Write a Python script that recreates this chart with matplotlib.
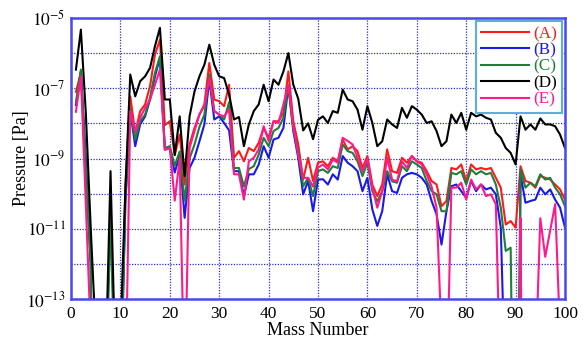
import numpy as np
import matplotlib
matplotlib.use("Agg")
import matplotlib.pyplot as plt
from matplotlib.ticker import FixedLocator, FixedFormatter

plt.rcParams['font.family'] = ['Liberation Serif', 'DejaVu Serif']
plt.rcParams['mathtext.fontset'] = 'stix'

mass = list(range(1, 101))

# log10 of pressure [Pa] (very low values = dropouts off the axis)
log_A = [-7.1, -6.56, -9.4, -12.0, -30, -30, -15, -10.6, -15, -16,
         -9.8, -7.23, -8.27, -7.65, -7.46, -6.94, -6.04, -5.62, -8.05, -7.94,
         -8.9, -8.32, -9.74, -8.6, -8.13, -7.75, -7.46, -6.28, -7.32, -7.37,
         -7.51, -6.9, -8.98, -8.79, -9.08, -8.7, -8.79, -8.55, -8.13, -8.41,
         -7.94, -7.94, -7.7, -6.52, -7.94, -8.6, -9.6, -8.98, -9.64, -9.12,
         -9.08, -9.22, -8.98, -9.08, -8.46, -8.74, -8.65, -8.79, -9.27, -8.93,
         -9.74, -10.07, -9.74, -8.74, -9.36, -9.41, -8.98, -9.12, -8.93, -9.08,
         -9.12, -9.36, -9.64, -9.74, -10.36, -10.21, -9.27, -9.31, -9.17, -9.64,
         -9.17, -9.31, -9.27, -9.31, -9.27, -9.55, -9.83, -10.88, -10.78, -10.97,
         -9.22, -9.64, -9.69, -9.83, -9.5, -9.55, -9.6, -9.74, -9.88, -10.17]

log_B = [-7.48, -6.52, -9.0, -12.0, -30, -30, -30, -30, -30, -16,
         -10.3, -7.65, -8.65, -8.03, -7.8, -7.32, -6.66, -6.14, -8.75, -8.7,
         -9.4, -8.9, -10.69, -9.27, -8.98, -8.51, -8.03, -6.75, -7.89, -7.8,
         -7.99, -8.2, -9.36, -9.36, -10.07, -9.45, -9.45, -9.17, -8.65, -8.98,
         -8.46, -8.41, -8.13, -6.94, -8.22, -8.98, -10.02, -9.64, -10.5, -9.6,
         -9.59, -9.74, -9.45, -9.6, -8.93, -9.12, -9.22, -9.36, -9.93, -9.55,
         -10.45, -10.92, -10.5, -9.45, -9.93, -9.98, -9.55, -9.45, -9.41, -9.45,
         -9.55, -9.74, -10.21, -10.59, -11.45, -10.5, -9.79, -9.74, -9.93, -10.12,
         -9.64, -9.93, -9.74, -9.88, -9.83, -10.02, -10.97, -16, -30, -30,
         -9.45, -10.26, -10.21, -10.17, -9.83, -10.02, -9.88, -10.17, -10.4, -10.97]

log_C = [-7.4, -6.47, -9.3, -12.0, -30, -30, -16, -10.7, -16, -16,
         -10.2, -7.6, -8.46, -7.94, -7.75, -7.27, -6.56, -6.09, -8.7, -8.65,
         -9.2, -8.8, -10.2, -9.0, -8.6, -8.1, -7.75, -6.61, -7.65, -7.75,
         -7.89, -7.4, -9.27, -9.27, -9.79, -9.3, -9.22, -8.89, -8.41, -8.65,
         -8.22, -8.13, -7.84, -6.9, -8.13, -8.79, -9.79, -9.55, -10.07, -9.36,
         -9.31, -9.41, -9.22, -9.27, -8.6, -8.79, -8.84, -9.08, -9.5, -9.12,
         -9.93, -10.22, -9.93, -9.36, -9.65, -9.69, -9.22, -9.36, -9.08, -9.17,
         -9.27, -9.64, -9.93, -10.02, -10.5, -10.5, -9.41, -9.45, -9.36, -9.74,
         -9.31, -9.45, -9.36, -9.45, -9.41, -9.74, -10.4, -11.63, -11.54, -22,
         -9.31, -9.83, -9.69, -9.79, -9.45, -9.6, -9.55, -9.83, -10.02, -10.36]

log_D = [-6.47, -5.33, -7.7, -11.0, -14, -30, -15, -9.36, -15, -14,
         -9.9, -6.61, -7.23, -6.8, -6.66, -6.42, -5.8, -5.28, -7.32, -7.32,
         -8.9, -7.8, -9.5, -7.8, -7.09, -6.66, -6.33, -5.76, -6.33, -6.66,
         -6.71, -7.18, -7.89, -7.82, -8.65, -8.03, -7.65, -7.46, -6.9, -7.37,
         -6.75, -6.9, -6.52, -6.0, -6.9, -7.3, -8.2, -8.0, -8.45, -7.9,
         -7.8, -7.99, -7.65, -7.7, -7.04, -7.32, -7.37, -7.61, -8.18, -7.51,
         -7.99, -8.65, -8.51, -7.89, -8.03, -8.13, -7.56, -7.84, -7.51, -7.61,
         -7.75, -7.99, -7.94, -8.22, -8.65, -8.51, -7.75, -7.99, -7.70, -8.18,
         -7.70, -7.80, -7.75, -7.84, -7.89, -8.27, -8.41, -8.70, -8.84, -9.17,
         -7.80, -8.18, -8.03, -8.18, -7.86, -8.03, -8.03, -8.08, -8.32, -8.70]

log_E = [-7.67, -6.66, -10.3, -14, -30, -30, -30, -30, -30, -30,
         -16, -7.65, -8.22, -7.84, -7.56, -7.32, -6.9, -6.47, -8.75, -8.7,
         -10.2, -9.0, -16, -8.7, -8.22, -7.75, -7.5, -6.71, -7.65, -7.75,
         -7.8, -7.6, -9.45, -9.45, -10.17, -9.08, -8.98, -8.74, -8.08, -8.5,
         -7.94, -7.99, -7.46, -6.9, -8.08, -8.9, -9.55, -9.55, -9.8, -9.26,
         -9.17, -9.31, -9.03, -9.12, -8.41, -8.5, -8.6, -8.98, -9.36, -9.0,
         -9.83, -10.4, -9.93, -8.98, -9.6, -9.65, -9.08, -9.27, -8.93, -9.08,
         -9.17, -9.45, -9.8, -10.4, -14, -16, -9.83, -9.83, -9.69, -10.17,
         -9.6, -9.88, -9.74, -10.07, -10.02, -10.3, -16, -30, -30, -30,
         -10.7, -30, -30, -15, -10.7, -11.8, -11.05, -10.3, -14, -30]

labels = ['(A)', '(B)', '(C)', '(D)', '(E)']
colors = ['#ff1a1a', '#1a1ae6', '#1f7f3a', '#000000', '#ff1a8c']
series = [log_A, log_B, log_C, log_D, log_E]

x_ticks = [0, 10, 20, 30, 40, 50, 60, 70, 80, 90, 100]
y_exps = list(range(-13, -4))

fig = plt.figure(figsize=(5.85, 3.38), dpi=100)
ax = fig.add_axes([71/585, 1-299/338, (565-71)/585, (299-18)/338])

lines = []
for lg, c, lab in zip(series, colors, labels):
    p = np.power(10.0, np.array(lg))
    ln, = ax.plot(mass, p, color=c, lw=1.5, label=lab)
    lines.append(ln)

ax.set_yscale('log')
ax.set_xlim(0, 100)
ax.set_ylim(1e-13, 1e-5)

ax.yaxis.set_major_locator(FixedLocator([10.0**e for e in y_exps]))
ax.yaxis.set_major_formatter(FixedFormatter(
    [r'$10^{%d}$' % e if e % 2 != 0 else '' for e in y_exps]))
ax.yaxis.set_minor_locator(FixedLocator([]))
ax.set_xticks(x_ticks)
ax.set_xticklabels([str(t) for t in x_ticks])

gridc = '#2a2ae0'
ax.grid(True, which='major', color=gridc, linestyle=(0, (1.0, 1.2)), lw=0.9)
for s in ax.spines.values():
    s.set_color('#4a4ae8')
    s.set_linewidth(1.8)
ax.tick_params(axis='both', direction='in', length=0, labelsize=12.5,
               colors='black', pad=5)
ax.tick_params(axis='y', pad=4)

ax.set_xlabel('Mass Number', fontsize=13, labelpad=0)
ax.set_ylabel('Pressure [Pa]', fontsize=13, labelpad=-3)

leg = ax.legend(handles=lines, loc='upper right',
                bbox_to_anchor=(562/585, 1-21/338), bbox_transform=fig.transFigure,
                fontsize=12.3, handlelength=2.8, handletextpad=0.22,
                labelspacing=0.02, borderpad=0.3, borderaxespad=0,
                fancybox=False, framealpha=1, edgecolor='#5aaee0')
leg.get_frame().set_linewidth(1.5)
for t, c in zip(leg.get_texts(), colors):
    t.set_color(c)

fig.savefig('out.png', dpi=100)
